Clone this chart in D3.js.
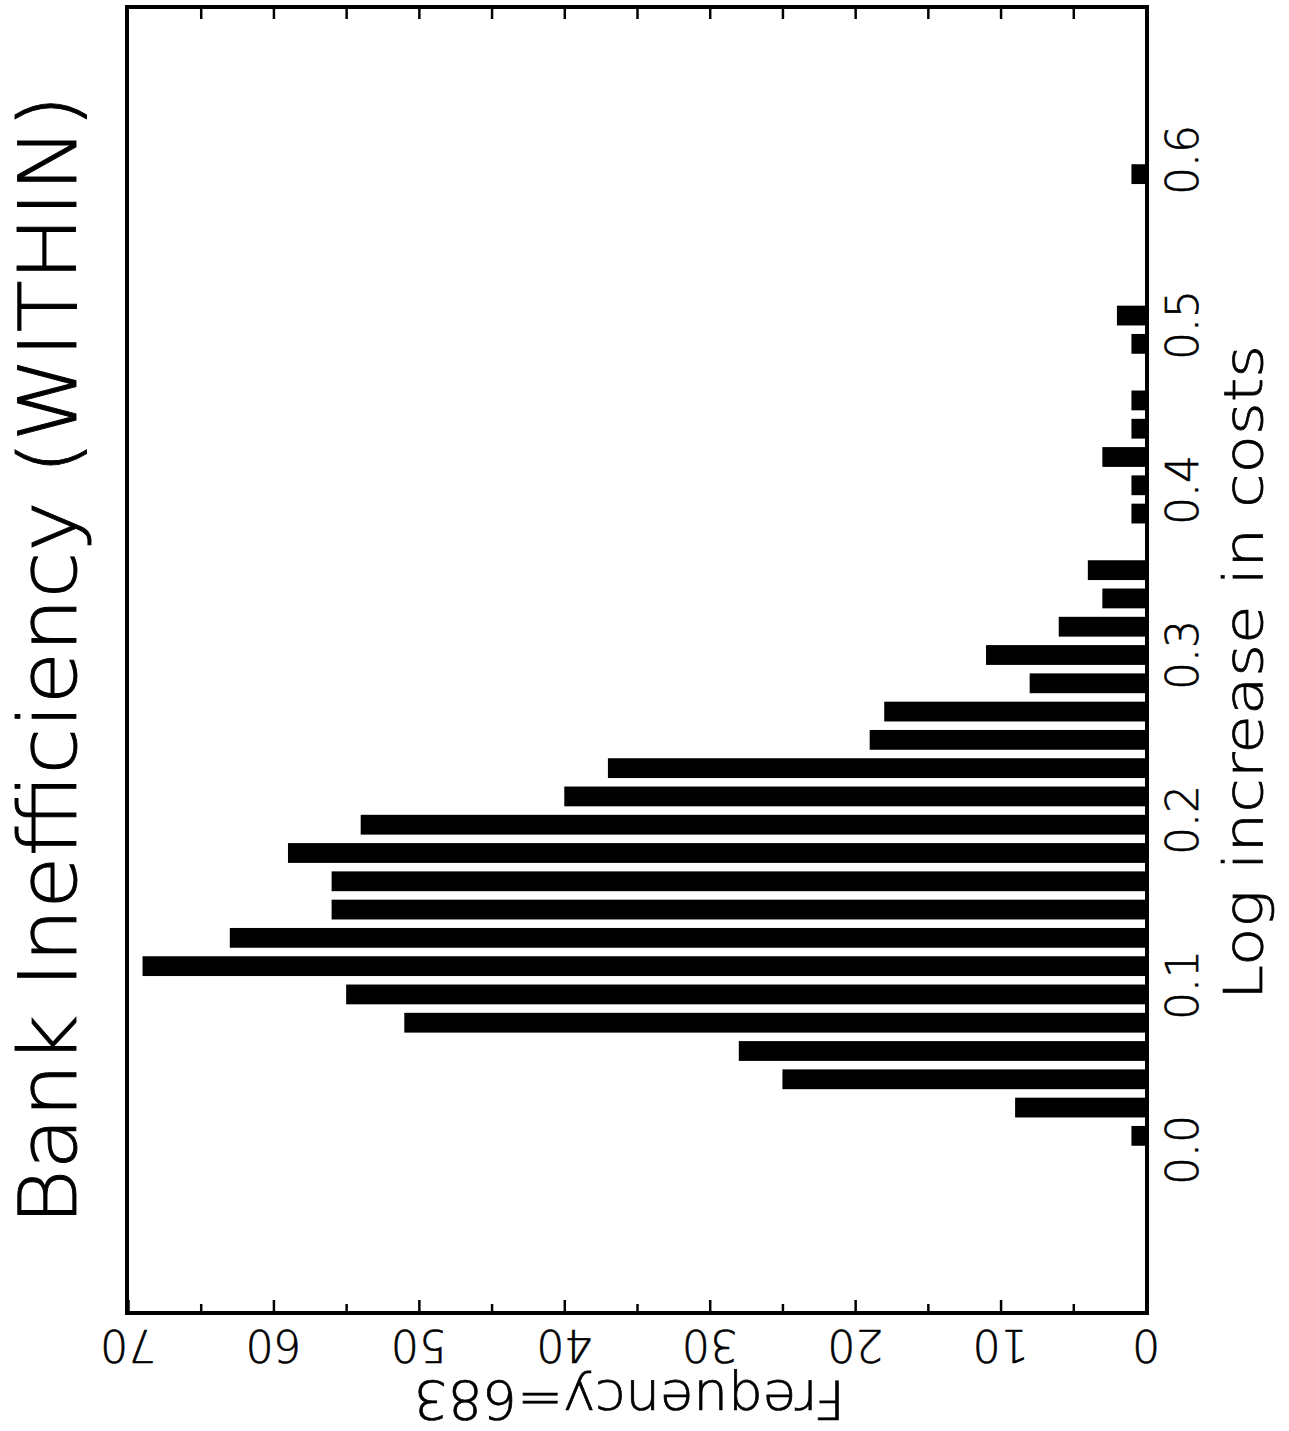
<!DOCTYPE html>
<html>
<head>
<meta charset="utf-8">
<script src="https://cdn.jsdelivr.net/npm/d3@7"></script>
<style>
  body { margin: 0; background: #fff; }
  text { font-family: "DejaVu Sans", sans-serif; fill: #000; font-weight: 200; stroke: #000; }
</style>
</head>
<body>
<div id="chart"></div>
<script>
// histogram counts, 35 equal bins between 0 and 0.6 (total 683)
var binCounts = [1, 9, 25, 28, 51, 55, 69, 63, 56, 56, 59, 54, 40, 37, 19, 18, 8, 11, 6, 3, 4,
                 0, 1, 1, 3, 1, 1, 0, 1, 2, 0, 0, 0, 0, 1];
var binRange = [0, 0.6];
var costTicks = [0.0, 0.1, 0.2, 0.3, 0.4, 0.5, 0.6];
var freqTicks = [0, 10, 20, 30, 40, 50, 60, 70];
var freqMinorTicks = [0, 5, 10, 15, 20, 25, 30, 35, 40, 45, 50, 55, 60, 65, 70];
var titleText = "Bank Inefficiency (WITHIN)";
var costLabel = "Log increase in costs";
var freqLabel = "Frequency=683";

var W = 1289, H = 1431;
var frame = { left: 127, right: 1147, top: 7, bottom: 1313 };

var svg = d3.select("#chart").append("svg")
    .attr("width", W)
    .attr("height", H);

// frequency runs right -> left, costs run bottom -> top (chart is turned on its side)
var x = d3.scaleLinear().domain([0, 70]).range([1146, 128]);
var y = d3.scaleLinear().domain([0, 0.6]).range([1150, 160]);

var binW = (binRange[1] - binRange[0]) / binCounts.length;
var bins = binCounts.map(function (c, i) {
    return { lo: binRange[0] + i * binW, hi: binRange[0] + (i + 1) * binW, n: c };
});

// bars
svg.append("g").selectAll("rect")
    .data(bins.filter(function (d) { return d.n > 0; }))
    .enter().append("rect")
    .attr("x", function (d) { return x(d.n); })
    .attr("width", function (d) { return x(0) - x(d.n); })
    .attr("y", function (d) { return y(d.hi - binW * 0.15); })
    .attr("height", function (d) { return y(d.lo + binW * 0.15) - y(d.hi - binW * 0.15); })
    .attr("fill", "#000");

// frame
svg.append("rect")
    .attr("x", frame.left)
    .attr("y", frame.top)
    .attr("width", frame.right - frame.left)
    .attr("height", frame.bottom - frame.top)
    .attr("fill", "none")
    .attr("stroke", "#000")
    .attr("stroke-width", 4);

// frequency ticks, bottom and top, pointing inward
var axB = svg.append("g")
    .attr("transform", "translate(0," + frame.bottom + ")")
    .call(d3.axisBottom(x).tickValues(freqMinorTicks).tickSize(-10).tickFormat(""));
var axT = svg.append("g")
    .attr("transform", "translate(0," + frame.top + ")")
    .call(d3.axisTop(x).tickValues(freqMinorTicks.slice(1, -1)).tickSize(-12).tickFormat(""));
[axB, axT].forEach(function (g) {
    g.select(".domain").remove();
    g.selectAll(".tick line").attr("stroke", "#000").attr("stroke-width", 2.5);
});
axB.selectAll(".tick line").attr("y2", function (d) { return d % 10 === 0 ? -13 : -9; });

// frequency tick labels (upside down)
svg.append("g").selectAll("text")
    .data(freqTicks)
    .enter().append("text")
    .attr("transform", function (d) { return "translate(" + x(d) + "," + (frame.bottom + 17) + ") rotate(180)"; })
    .attr("text-anchor", "middle")
    .attr("font-size", 44)
    .attr("stroke-width", 0.6)
    .text(function (d) { return d; });

svg.append("text")
    .attr("transform", "translate(" + ((frame.left + frame.right) / 2 - 8) + "," + (frame.bottom + 68) + ") rotate(180)")
    .attr("text-anchor", "middle")
    .attr("font-size", 54)
    .attr("stroke-width", 0.7)
    .attr("textLength", 432)
    .attr("lengthAdjust", "spacingAndGlyphs")
    .text(freqLabel);

// cost tick labels (reading upward)
svg.append("g").selectAll("text")
    .data(costTicks)
    .enter().append("text")
    .attr("transform", function (d) { return "translate(1198," + y(d) + ") rotate(-90)"; })
    .attr("text-anchor", "middle")
    .attr("font-size", 44)
    .attr("stroke-width", 0.6)
    .text(function (d) { return d.toFixed(1); });

svg.append("text")
    .attr("transform", "translate(1262,1000) rotate(-90)")
    .attr("font-size", 54)
    .attr("stroke-width", 0.7)
    .attr("textLength", 655)
    .attr("lengthAdjust", "spacingAndGlyphs")
    .text(costLabel);

// title
svg.append("text")
    .attr("transform", "translate(76,1225) rotate(-90)")
    .attr("font-size", 80)
    .attr("stroke-width", 0.9)
    .attr("textLength", 1130)
    .attr("lengthAdjust", "spacingAndGlyphs")
    .text(titleText);
</script>
</body>
</html>
